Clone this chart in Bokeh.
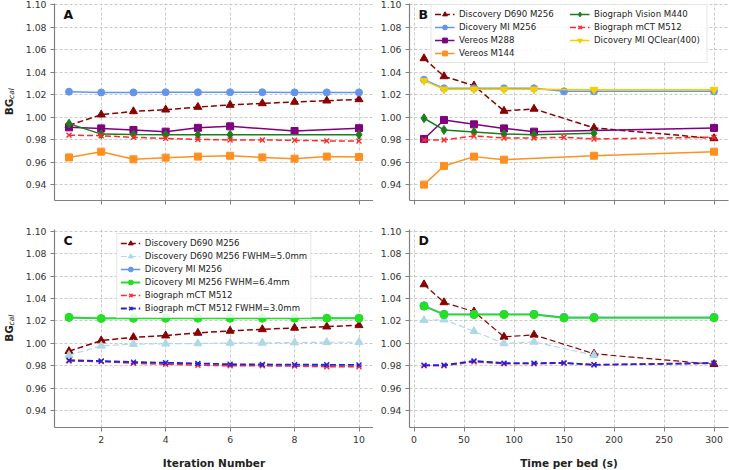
from bokeh.plotting import figure
from bokeh.layouts import gridplot
from bokeh.models import Range1d, Label, Legend, LegendItem, FixedTicker, PrintfTickFormatter
from bokeh.embed import file_html
from bokeh.resources import INLINE

FONT = "DejaVu Sans"

# ---------------- data ----------------
iters = [1, 2, 3, 4, 5, 6, 7, 8, 9, 10]
a_d690 = [0.9930, 1.0025, 1.0054, 1.0069, 1.0093, 1.0111, 1.0125, 1.0138, 1.0149, 1.0161]
a_mi = [1.0229, 1.0222, 1.0223, 1.0224, 1.0224, 1.0224, 1.0224, 1.0223, 1.0223, 1.0223]
a_v288_x = [1, 2, 3, 4, 5, 6, 8, 10]
a_v288 = [0.9912, 0.9903, 0.9889, 0.9874, 0.9908, 0.9921, 0.9880, 0.9905]
a_v144 = [0.9645, 0.9696, 0.9628, 0.9643, 0.9652, 0.9660, 0.9645, 0.9634, 0.9652, 0.9649]
a_vis_x = [1, 2, 3, 4, 5, 6, 10]
a_vis = [0.9945, 0.9852, 0.9848, 0.9847, 0.9847, 0.9847, 0.9847]
a_mct = [0.9843, 0.9838, 0.9823, 0.9814, 0.9805, 0.9800, 0.9800, 0.9797, 0.9792, 0.9791]

c_fw5 = [0.9895, 0.9978, 0.9993, 0.9997, 0.9999, 1.0004, 1.0004, 1.0007, 1.0010, 1.0010]
c_fw64 = [1.0232, 1.0222, 1.0224, 1.0224, 1.0224, 1.0224, 1.0224, 1.0224, 1.0224, 1.0224]
c_fw30 = [0.9850, 0.9842, 0.9833, 0.9827, 0.9821, 0.9814, 0.9812, 0.9810, 0.9809, 0.9808]

times = [10, 30, 60, 90, 120, 150, 180, 300]
b_d690_x = [10, 30, 60, 90, 120, 180, 300]
b_d690 = [1.0525, 1.0365, 1.0283, 1.0058, 1.0076, 0.9907, 0.9814]
b_mi = [1.0336, 1.0259, 1.0259, 1.0259, 1.0259, 1.0232, 1.0232, 1.0232]
b_v288_x = [10, 30, 60, 90, 120, 300]
b_v288 = [0.9809, 0.9978, 0.9939, 0.9903, 0.9874, 0.9907]
b_v144_x = [10, 30, 60, 90, 180, 300]
b_v144 = [0.9403, 0.9569, 0.9652, 0.9625, 0.9660, 0.9696]
b_vis_x = [10, 30, 60, 90, 120, 180]
b_vis = [0.9993, 0.9889, 0.9871, 0.9853, 0.9847, 0.9859]
b_mct = [0.9800, 0.9800, 0.9836, 0.9818, 0.9818, 0.9824, 0.9809, 0.9824]
b_qc_x = [10, 30, 60, 90, 120, 180, 300]
b_qc = [1.0327, 1.0250, 1.0250, 1.0250, 1.0250, 1.0247, 1.0247]

d_fw5_x = [10, 30, 60, 90, 120, 180]
d_fw5 = [1.0206, 1.0212, 1.0108, 0.9999, 1.0013, 0.9895]
d_fw64 = [1.0331, 1.0257, 1.0257, 1.0257, 1.0257, 1.0227, 1.0228, 1.0228]
d_fw30 = [0.9806, 0.9806, 0.9844, 0.9824, 0.9824, 0.9826, 0.9809, 0.9824]

y_ticks = [0.94, 0.96, 0.98, 1.00, 1.02, 1.04, 1.06, 1.08, 1.10]
iter_ticks = [2, 4, 6, 8, 10]
time_ticks = [0, 50, 100, 150, 200, 250, 300]

# ---------------- styles ----------------
C_D690 = "#8b0000"
C_MI = "#6495ed"
C_V288 = "#800080"
C_V144 = "#ff9020"
C_VIS = "#1a7f1a"
C_MCT = "#ff2a2a"
C_QC = "#f5d000"
C_FW5 = "#add8e6"
C_FW64 = "#22e022"
C_FW30 = "#2020e0"
DASH = "6 3"

FW = 319
TOP = dict(bt=3, fh=197, bb=15, ylo=0.9262, yhi=1.1013)
BOT = dict(bt=14, fh=198, bb=42, ylo=0.925, yhi=1.1015)


def make_fig(x_lo, x_hi, xticks, bl, br, row, show_labels, xlabel=None):
    p = figure(frame_width=FW, frame_height=row["fh"],
               x_range=Range1d(x_lo, x_hi), y_range=Range1d(row["ylo"], row["yhi"]),
               output_backend="svg", toolbar_location=None,
               min_border_left=bl, min_border_right=br,
               min_border_top=row["bt"], min_border_bottom=row["bb"])
    p.outline_line_color = None
    p.xaxis.ticker = FixedTicker(ticks=xticks)
    p.yaxis.ticker = FixedTicker(ticks=y_ticks)
    p.yaxis.formatter = PrintfTickFormatter(format="%.2f")
    for ax in (p.xaxis[0], p.yaxis[0]):
        ax.axis_line_color = "#808080"
        ax.axis_line_width = 1.2
        ax.major_tick_line_color = "#808080"
        ax.major_tick_line_width = 1
        ax.major_tick_out = 4
        ax.major_tick_in = 0
        ax.minor_tick_line_color = None
        ax.major_label_text_font = FONT
        ax.major_label_text_font_size = "9.3px"
        ax.major_label_text_color = "#333333"
    p.yaxis.major_label_standoff = 4
    p.xaxis.major_label_standoff = 4
    if not show_labels:
        p.xaxis.major_label_overrides = {t: "" for t in xticks}
        p.xaxis.major_label_standoff = 0
    if xlabel:
        p.xaxis.axis_label = xlabel
        p.xaxis.axis_label_text_font = FONT
        p.xaxis.axis_label_text_font_style = "bold"
        p.xaxis.axis_label_text_font_size = "10.5px"
        p.xaxis.axis_label_text_color = "#222222"
        p.xaxis.axis_label_standoff = 11
    for g in (p.xgrid[0], p.ygrid[0]):
        g.grid_line_color = "#bdbdbd"
        g.grid_line_dash = "3 2"
        g.grid_line_width = 0.8
    return p


def label_fig(row):
    # narrow strip holding the rotated y-axis title BG_cal
    p = figure(frame_width=16, frame_height=row["fh"], x_range=Range1d(0, 1),
               y_range=Range1d(0, 1), x_axis_location=None, y_axis_location=None,
               output_backend="svg", toolbar_location=None,
               min_border_left=0, min_border_right=0,
               min_border_top=row["bt"], min_border_bottom=row["bb"])
    p.outline_line_color = None
    p.grid.visible = False
    fh = row["fh"]
    p.add_layout(Label(x=8.5, y=fh / 2 - 5, x_units="screen", y_units="screen", text="BG",
                       angle=1.5707963, text_font=FONT, text_font_style="bold",
                       text_font_size="10.5px", text_align="center", text_baseline="middle",
                       text_color="#222222"))
    p.add_layout(Label(x=11, y=fh / 2 + 8.5, x_units="screen", y_units="screen", text="cal",
                       angle=1.5707963, text_font=FONT, text_font_style="italic",
                       text_font_size="7.5px", text_align="center", text_baseline="middle",
                       text_color="#222222"))
    return p


def series(p, x, y, color, marker, dash="solid", size=7, lw=1.5):
    r1 = p.line(x, y, line_color=color, line_width=lw, line_dash=dash)
    if marker == "x":
        r2 = p.scatter(x, y, marker="x", size=size, line_color=color, line_width=1.4)
    else:
        r2 = p.scatter(x, y, marker=marker, size=size, fill_color=color, line_color=color)
    return [r1, r2]


def panel_letter(p, letter, fh):
    p.add_layout(Label(x=9, y=fh - 11, x_units="screen", y_units="screen", text=letter,
                       text_font=FONT, text_font_style="bold", text_font_size="12.5px",
                       text_baseline="middle", text_align="left", text_color="#111111"))


def style_legend(lg, margin):
    lg.label_text_font = FONT
    lg.label_text_font_size = "8.6px"
    lg.label_text_color = "#222222"
    lg.glyph_width = 20
    lg.glyph_height = 12
    lg.label_height = 12
    lg.label_width = 109
    lg.label_standoff = 5
    lg.spacing = 1
    lg.padding = 3
    lg.margin = margin
    lg.border_line_color = "#cccccc"
    lg.border_line_width = 1
    lg.background_fill_alpha = 0.85


# ---------------- Panel A ----------------
pA = make_fig(0.55, 10.45, iter_ticks, 38, 0, TOP, False)
series(pA, iters, a_d690, C_D690, "triangle", DASH, size=8)
series(pA, iters, a_mi, C_MI, "circle")
series(pA, a_v288_x, a_v288, C_V288, "square")
series(pA, iters, a_v144, C_V144, "square")
series(pA, a_vis_x, a_vis, C_VIS, "diamond", size=9)
series(pA, iters, a_mct, C_MCT, "x", DASH)
panel_letter(pA, "A", TOP["fh"])

# ---------------- Panel B ----------------
pB = make_fig(-4.5, 314.5, time_ticks, 36, 1, TOP, False)
rb1 = series(pB, b_d690_x, b_d690, C_D690, "triangle", DASH, size=8)
rb2 = series(pB, times, b_mi, C_MI, "circle")
rb3 = series(pB, b_v288_x, b_v288, C_V288, "square")
rb4 = series(pB, b_v144_x, b_v144, C_V144, "square")
rb5 = series(pB, b_vis_x, b_vis, C_VIS, "diamond", size=9)
rb6 = series(pB, times, b_mct, C_MCT, "x", DASH)
rb7 = series(pB, b_qc_x, b_qc, C_QC, "inverted_triangle", size=8)
panel_letter(pB, "B", TOP["fh"])
legB = Legend(items=[
    LegendItem(label="Discovery D690 M256", renderers=rb1),
    LegendItem(label="Dicovery MI M256", renderers=rb2),
    LegendItem(label="Vereos M288", renderers=rb3),
    LegendItem(label="Vereos M144", renderers=rb4),
    LegendItem(label="Biograph Vision M440", renderers=rb5),
    LegendItem(label="Biograph mCT M512", renderers=rb6),
    LegendItem(label="Dicovery MI QClear(400)", renderers=rb7),
], location="top_center", ncols=2)
style_legend(legB, 1)
pB.add_layout(legB)

# ---------------- Panel C ----------------
pC = make_fig(0.55, 10.45, iter_ticks, 38, 0, BOT, True, "Iteration Number")
rc1 = series(pC, iters, a_d690, C_D690, "triangle", DASH, size=8)
rc2 = series(pC, iters, c_fw5, C_FW5, "triangle", DASH, size=8, lw=1.2)
rc3 = series(pC, iters, a_mi, C_MI, "circle")
rc4 = series(pC, iters, c_fw64, C_FW64, "circle", size=8, lw=1.8)
rc5 = series(pC, iters, a_mct, C_MCT, "x", DASH)
rc6 = series(pC, iters, c_fw30, C_FW30, "x", DASH, lw=1.8)
panel_letter(pC, "C", BOT["fh"])
legC = Legend(items=[
    LegendItem(label="Discovery D690 M256", renderers=rc1),
    LegendItem(label="Discovery D690 M256 FWHM=5.0mm", renderers=rc2),
    LegendItem(label="Dicovery MI M256", renderers=rc3),
    LegendItem(label="Dicovery MI M256 FWHM=6.4mm", renderers=rc4),
    LegendItem(label="Biograph mCT M512", renderers=rc5),
    LegendItem(label="Biograph mCT M512 FWHM=3.0mm", renderers=rc6),
], location="top_center")
style_legend(legC, 4)
pC.add_layout(legC)

# ---------------- Panel D ----------------
pD = make_fig(-4.5, 314.5, time_ticks, 36, 1, BOT, True, "Time per bed (s)")
series(pD, b_d690_x, b_d690, C_D690, "triangle", DASH, size=8, lw=1.2)
series(pD, d_fw5_x, d_fw5, C_FW5, "triangle", DASH, size=8, lw=1.1)
series(pD, times, b_mi, C_MI, "circle", size=8)
series(pD, times, d_fw64, C_FW64, "circle", size=8, lw=1.8)
series(pD, times, b_mct, C_MCT, "x", DASH)
series(pD, times, d_fw30, C_FW30, "x", DASH, lw=1.8)
panel_letter(pD, "D", BOT["fh"])

grid = gridplot([[label_fig(TOP), pA, pB], [label_fig(BOT), pC, pD]], toolbar_location=None)

open("out.html", "w").write(file_html(grid, INLINE))
